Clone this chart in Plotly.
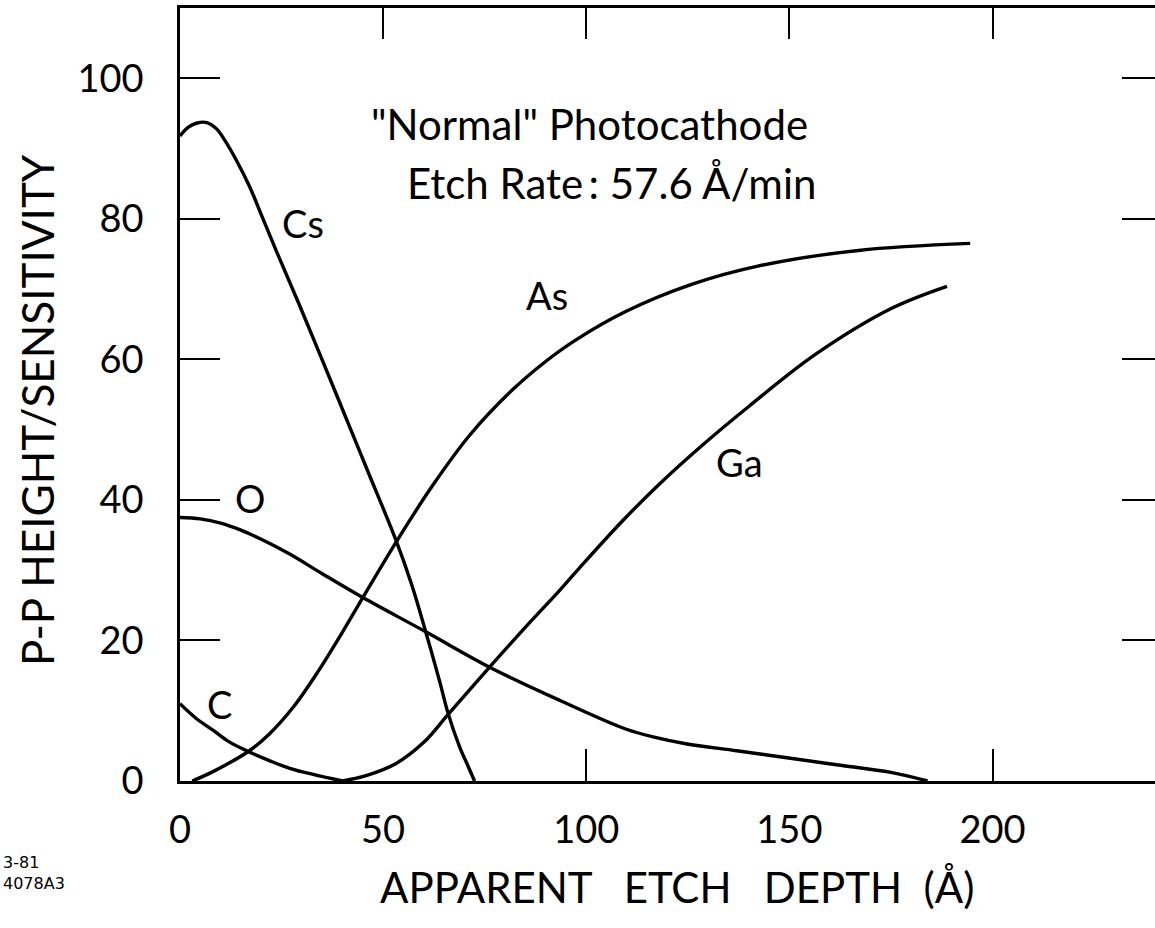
import plotly.graph_objects as go

# ---- data ----
cs_x = [0, 2, 4, 6.6, 9, 11, 14, 17.2, 20, 23.8, 29.5, 38.5, 46, 53.2, 57, 60.6, 64, 65.9, 68.8, 71, 72.5]
cs_y = [91.8, 93.0, 93.6, 93.7, 92.8, 91.2, 88.2, 84.5, 80.6, 75.3, 67.6, 55.0, 44.4, 34.2, 28.0, 21.0, 14.0, 9.8, 4.9, 2.0, 0.0]

as_x = [3, 8, 16.8, 22, 28, 34, 40, 45, 53.2, 62, 71.3, 81.9, 90, 97, 109.7, 126.1, 142.5, 167, 194.5]
as_y = [0.0, 1.3, 4.2, 6.7, 10.6, 15.6, 21.2, 26.1, 34.0, 41.9, 49.2, 55.7, 59.7, 62.6, 66.8, 70.7, 73.3, 75.5, 76.5]

ga_x = [40, 46, 53.2, 60, 65.9, 76.2, 86, 93.4, 98.3, 108.9, 117.9, 128, 140, 156.4, 175.3, 188.8]
ga_y = [0.0, 0.8, 2.5, 5.5, 9.4, 16.2, 22.5, 27.1, 30.3, 37.0, 42.2, 47.5, 53.3, 60.7, 67.3, 70.4]

o_x = [0, 5, 10, 15, 20, 27, 35, 45, 60.6, 76.2, 93.4, 109.7, 117, 124.5, 137, 150.7, 163, 175.3, 184]
o_y = [37.5, 37.3, 36.7, 35.7, 34.4, 32.3, 29.5, 26.1, 21.2, 16.2, 11.5, 7.4, 6.2, 5.3, 4.3, 3.2, 2.2, 1.2, 0.0]

c_x = [0, 4, 8.2, 12, 16.8, 22, 27, 33, 40]
c_y = [11.0, 8.9, 7.2, 5.6, 4.2, 2.9, 1.8, 0.9, 0.0]

series_names = ["Cs", "As", "Ga", "O", "C"]
label_x = [30.2, 90.4, 137.6, 17.2, 9.8]
label_y = [79.4, 69.2, 45.4, 40.3, 10.9]

x_ticks = [0, 50, 100, 150, 200]
x_ticktext = ["0", "50", "100", "150", "200"]
x_top_ticks = [50, 100, 150, 200]
x_bottom_ticks = [100, 200]
y_ticks = [0, 20, 40, 60, 80, 100]
y_ticktext = ["0", "20", "40", "60", "80", "100"]

title_line1 = "\"Normal\" Photocathode"
title_line2 = "Etch Rate\u2009:\u00a057.6\u00a0Å/min"
x_title = "APPARENT\u00a0\u00a0\u00a0ETCH\u00a0\u00a0\u00a0DEPTH\u00a0\u00a0(Å)"
y_title = "P-P\u00a0HEIGHT/SENSITIVITY"
corner_note = "3-81<br>4078A3"

FONT = "Lato"

fig = go.Figure()
all_series = [(cs_x, cs_y), (as_x, as_y), (ga_x, ga_y), (o_x, o_y), (c_x, c_y)]
for name, (xs, ys) in zip(series_names, all_series):
    fig.add_trace(go.Scatter(
        x=xs, y=ys, mode="lines", name=name,
        line=dict(color="black", width=3.4, shape="spline", smoothing=1.0),
        showlegend=False, hoverinfo="skip",
    ))

# invisible helper traces so the overlay axes (top / right / bottom tick sets) are drawn
fig.add_trace(go.Scatter(x=c_x, y=c_y, xaxis="x2", yaxis="y2", mode="lines",
                         line=dict(color="rgba(0,0,0,0)"), showlegend=False, hoverinfo="skip"))
fig.add_trace(go.Scatter(x=c_x, y=c_y, xaxis="x3", yaxis="y", mode="lines",
                         line=dict(color="rgba(0,0,0,0)"), showlegend=False, hoverinfo="skip"))

annotations = []
for name, lx, ly in zip(series_names, label_x, label_y):
    annotations.append(dict(x=lx, y=ly, xref="x", yref="y", text=name, showarrow=False,
                            font=dict(family=FONT, size=38, color="black")))

annotations.append(dict(x=100.7, y=93.5, xref="x", yref="y", text=title_line1, showarrow=False,
                        font=dict(family=FONT, size=42, color="black")))
annotations.append(dict(x=106.1, y=85.1, xref="x", yref="y", text=title_line2, showarrow=False,
                        font=dict(family=FONT, size=42, color="black")))

# positions in pixels relative to plot area (left=180, bottom=781, width 975, height 773)
L, B, W, H = 180, 781, 975, 773
annotations.append(dict(x=(677 - L) / W, y=(B - 887) / H, xref="paper", yref="paper", text=x_title,
                        xanchor="center", yanchor="middle",
                        showarrow=False, font=dict(family=FONT, size=42, color="black")))
annotations.append(dict(x=(37 - L) / W, y=(B - 410) / H, xref="paper", yref="paper", text=y_title,
                        xanchor="center", yanchor="middle",
                        textangle=-90, showarrow=False, font=dict(family=FONT, size=44, color="black")))
annotations.append(dict(x=(1 - L) / W, y=(B - 873) / H, xref="paper", yref="paper", text=corner_note,
                        xanchor="left", yanchor="middle", align="left", showarrow=False,
                        font=dict(family="DejaVu Sans", size=16, color="black")))

tickfont = dict(family=FONT, size=38, color="black")
fig.update_layout(
    width=1155, height=928,
    margin=dict(l=180, r=0, t=8, b=147),
    paper_bgcolor="white", plot_bgcolor="white",
    annotations=annotations,
    xaxis=dict(range=[0, 240], tickvals=x_ticks, ticktext=x_ticktext,
               ticks="", showline=True, linewidth=2.5, linecolor="black", mirror=False,
               showgrid=False, zeroline=False, ticklabelstandoff=14, tickfont=tickfont),
    xaxis2=dict(range=[0, 240], overlaying="x", side="top", anchor="y",
                tickvals=x_top_ticks, ticks="inside", ticklen=31, tickwidth=2, tickcolor="black",
                showticklabels=False, showline=True, linewidth=2.5, linecolor="black",
                showgrid=False, zeroline=False),
    xaxis3=dict(range=[0, 240], overlaying="x", side="bottom", anchor="y",
                tickvals=x_bottom_ticks, ticks="inside", ticklen=32, tickwidth=2, tickcolor="black",
                showticklabels=False, showline=False, showgrid=False, zeroline=False),
    yaxis=dict(range=[0, 110], tickvals=y_ticks, ticktext=y_ticktext,
               ticks="inside", ticklen=40, tickwidth=2, tickcolor="black",
               showline=True, linewidth=2.5, linecolor="black", mirror=False,
               showgrid=False, zeroline=False, ticklabelstandoff=26, tickfont=tickfont),
    yaxis2=dict(range=[0, 110], overlaying="y", side="right", anchor="x",
                tickvals=y_ticks[1:], ticks="inside", ticklen=33, tickwidth=2, tickcolor="black",
                showticklabels=False, showline=False, showgrid=False, zeroline=False),
)

fig.write_html("out.html")
